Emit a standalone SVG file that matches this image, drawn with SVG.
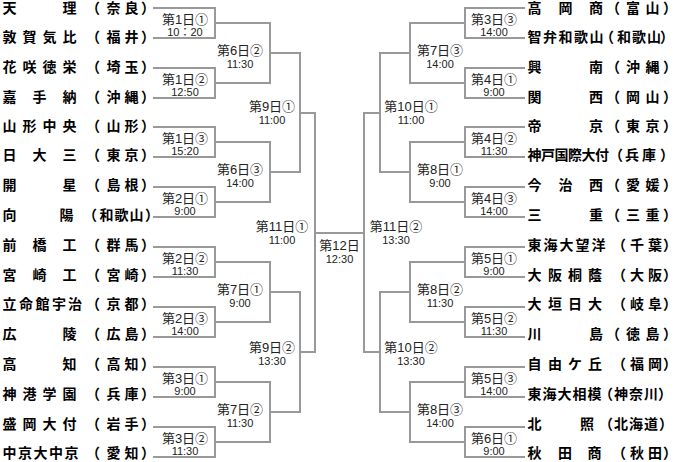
<svg xmlns="http://www.w3.org/2000/svg" width="680" height="462" viewBox="0 0 680 462">
<style>
.ln{fill:none;stroke:#999;stroke-width:2}
.nm{font-family:"Noto Sans CJK JP","Noto Sans CJK SC",sans-serif;font-size:14px;font-weight:700;fill:#000}
.dl{font-family:"Liberation Sans","Noto Sans CJK JP",sans-serif;font-size:13px;fill:#222;text-anchor:middle}
.tm{font-family:"Liberation Sans","Noto Sans CJK JP",sans-serif;font-size:11px;fill:#222;text-anchor:middle}
</style>
<rect width="680" height="462" fill="#fff"/>
<g id="connectors">
<path class="ln" d="M153 8H215V38H153M153 68H215V98H153M153 127H215V157H153M153 187H215V217H153M153 247H215V277H153M153 307H215V337H153M153 367H215V397H153M153 427H215V457H153"/>
<path class="ln" d="M215 23H270V83H215M215 142H270V202H215M215 262H270V322H215M215 382H270V442H215"/>
<path class="ln" d="M270 53H300V172H270M270 292H300V412H270"/>
<path class="ln" d="M300 113H315V352H300"/>
<path class="ln" d="M315 233H364"/>
<path class="ln" d="M380 113H364V352H380"/>
<path class="ln" d="M410 53H380V172H410M410 292H380V412H410"/>
<path class="ln" d="M465 23H410V83H465M465 142H410V202H465M465 262H410V322H465M465 382H410V442H465"/>
<path class="ln" d="M525 8H465V38H525M525 68H465V98H525M525 127H465V157H525M525 187H465V217H525M525 247H465V277H525M525 307H465V337H525M525 367H465V397H525M525 427H465V457H525"/>
</g>
<g id="teams-left">
<g id="L01"><text class="nm" x="2.5 62.5 86 106.5 124.5 141" y="13.3">天理（奈良）</text></g>
<g id="L02"><text class="nm" x="2.5 22.5 42.5 62.5 86 106.5 124.5 141" y="42.1">敦賀気比（福井）</text></g>
<g id="L03"><text class="nm" x="2.5 22.5 42.5 62.5 86 106.5 124.5 141" y="71.9">花咲徳栄（埼玉）</text></g>
<g id="L04"><text class="nm" x="2.5 32.5 62.5 86 106.5 124.5 141" y="101.7">嘉手納（沖縄）</text></g>
<g id="L05"><text class="nm" x="2.5 22.5 42.5 62.5 86 106.5 124.5 141" y="130.5">山形中央（山形）</text></g>
<g id="L06"><text class="nm" x="2.5 32.5 62.5 86 106.5 124.5 141" y="160.3">日大三（東京）</text></g>
<g id="L07"><text class="nm" x="2.5 62.5 86 106.5 124.5 141" y="190.1">開星（島根）</text></g>
<g id="L08"><text class="nm" x="2.5 59.5 83 99.5 114.5 129.5 145" y="219.9">向陽（和歌山）</text></g>
<g id="L09"><text class="nm" x="2.5 32.5 62.5 86 106.5 124.5 141" y="249.7">前橋工（群馬）</text></g>
<g id="L10"><text class="nm" x="2.5 32.5 62.5 86 106.5 124.5 141" y="279.5">宮崎工（宮崎）</text></g>
<g id="L11"><text class="nm" x="2.5 19 35.5 52 68 86 106.5 124.5 141" y="309.3">立命館宇治（京都）</text></g>
<g id="L12"><text class="nm" x="2.5 62.5 86 106.5 124.5 141" y="339.1">広陵（広島）</text></g>
<g id="L13"><text class="nm" x="2.5 62.5 86 106.5 124.5 141" y="368.9">高知（高知）</text></g>
<g id="L14"><text class="nm" x="2.5 22.5 42.5 62.5 86 106.5 124.5 141" y="398.7">神港学園（兵庫）</text></g>
<g id="L15"><text class="nm" x="2.5 22.5 42.5 62.5 86 106.5 124.5 141" y="428.5">盛岡大付（岩手）</text></g>
<g id="L16"><text class="nm" x="2.5 18 33.5 49 64.5 86 106.5 124.5 141" y="458.3">中京大中京（愛知）</text></g>
</g>
<g id="teams-right">
<g id="R01"><text class="nm" x="527.5 558.5 589 606 626 645.5 663" y="13.3">高岡商（富山）</text></g>
<g id="R02"><text class="nm" x="527.5 543 558.5 574 589.5 600 617 632 647 660" y="42.1">智弁和歌山（和歌山）</text></g>
<g id="R03"><text class="nm" x="527.5 589 606 626 645.5 663" y="71.9">興南（沖縄）</text></g>
<g id="R04"><text class="nm" x="527.5 589 606 626 645.5 663" y="101.7">関西（岡山）</text></g>
<g id="R05"><text class="nm" x="527.5 589 606 626 645.5 663" y="130.5">帝京（東京）</text></g>
<g id="R06"><text class="nm" x="527.5 541 554.5 568 581.5 595 609 625 642 660" y="160.3">神戸国際大付（兵庫）</text></g>
<g id="R07"><text class="nm" x="527.5 558.5 589 606 626 645.5 663" y="190.1">今治西（愛媛）</text></g>
<g id="R08"><text class="nm" x="527.5 589 606 626 645.5 663" y="219.9">三重（三重）</text></g>
<g id="R09"><text class="nm" x="527.5 543.5 559.5 575.5 591.5 612 630 648 663" y="249.7">東海大望洋（千葉）</text></g>
<g id="R10"><text class="nm" x="527.5 548 568 588 612 630 648 663" y="279.5">大阪桐蔭（大阪）</text></g>
<g id="R11"><text class="nm" x="527.5 548 568 588 612 630 648 663" y="309.3">大垣日大（岐阜）</text></g>
<g id="R12"><text class="nm" x="527.5 589 606 626 645.5 663" y="339.1">川島（徳島）</text></g>
<g id="R13"><text class="nm" x="527.5 548 568 588 612 630 648 663" y="368.9">自由ケ丘（福岡）</text></g>
<g id="R14"><text class="nm" x="527.5 542.5 557.5 572.5 587.5 599 614 629 644 658" y="398.7">東海大相模（神奈川）</text></g>
<g id="R15"><text class="nm" x="527.5 580 599 614 629 644 659" y="428.5">北照（北海道）</text></g>
<g id="R16"><text class="nm" x="527.5 558 587.5 612 630 648 663" y="458.3">秋田商（秋田）</text></g>
</g>
<g id="matches-left">
<g id="m-d1-1"><text class="dl" x="185" y="23.5">第1日①</text><text class="tm" x="185" y="35.5">10：20</text></g>
<g id="m-d1-2"><text class="dl" x="185" y="83.5">第1日②</text><text class="tm" x="185" y="95.5">12:50</text></g>
<g id="m-d1-3"><text class="dl" x="185" y="142.5">第1日③</text><text class="tm" x="185" y="154.5">15:20</text></g>
<g id="m-d2-1"><text class="dl" x="185" y="202.5">第2日①</text><text class="tm" x="185" y="214.5">9:00</text></g>
<g id="m-d2-2"><text class="dl" x="185" y="262.5">第2日②</text><text class="tm" x="185" y="274.5">11:30</text></g>
<g id="m-d2-3"><text class="dl" x="185" y="322.5">第2日③</text><text class="tm" x="185" y="334.5">14:00</text></g>
<g id="m-d3-1"><text class="dl" x="185" y="382.5">第3日①</text><text class="tm" x="185" y="394.5">9:00</text></g>
<g id="m-d3-2"><text class="dl" x="185" y="442.5">第3日②</text><text class="tm" x="185" y="454.5">11:30</text></g>
<g id="m-d6-2"><text class="dl" x="240" y="55">第6日②</text><text class="tm" x="240" y="67.5">11:30</text></g>
<g id="m-d6-3"><text class="dl" x="240" y="174">第6日③</text><text class="tm" x="240" y="186.5">14:00</text></g>
<g id="m-d7-1"><text class="dl" x="240" y="294">第7日①</text><text class="tm" x="240" y="306.5">9:00</text></g>
<g id="m-d7-2"><text class="dl" x="240" y="414">第7日②</text><text class="tm" x="240" y="426.5">11:30</text></g>
<g id="m-d9-1"><text class="dl" x="272" y="111">第9日①</text><text class="tm" x="272" y="123.5">11:00</text></g>
<g id="m-d9-2"><text class="dl" x="272" y="352">第9日②</text><text class="tm" x="272" y="365">13:30</text></g>
<g id="m-d11-1"><text class="dl" x="282" y="231">第11日①</text><text class="tm" x="282" y="243.5">11:00</text></g>
</g>
<g id="m-final"><text class="dl" x="339.5" y="250">第12日</text><text class="tm" x="339.5" y="262.5">12:30</text></g>
<g id="matches-right">
<g id="m-d11-2"><text class="dl" x="396" y="231">第11日②</text><text class="tm" x="396" y="243.5">13:30</text></g>
<g id="m-d10-1"><text class="dl" x="411" y="111">第10日①</text><text class="tm" x="411" y="123.5">11:00</text></g>
<g id="m-d10-2"><text class="dl" x="411" y="352">第10日②</text><text class="tm" x="411" y="365">13:30</text></g>
<g id="m-d7-3"><text class="dl" x="440" y="55">第7日③</text><text class="tm" x="440" y="67.5">14:00</text></g>
<g id="m-d8-1"><text class="dl" x="440" y="174">第8日①</text><text class="tm" x="440" y="186.5">9:00</text></g>
<g id="m-d8-2"><text class="dl" x="440" y="294">第8日②</text><text class="tm" x="440" y="306.5">11:30</text></g>
<g id="m-d8-3"><text class="dl" x="440" y="414">第8日③</text><text class="tm" x="440" y="426.5">14:00</text></g>
<g id="m-d3-3"><text class="dl" x="494" y="23.5">第3日③</text><text class="tm" x="494" y="35.5">14:00</text></g>
<g id="m-d4-1"><text class="dl" x="494" y="83.5">第4日①</text><text class="tm" x="494" y="95.5">9:00</text></g>
<g id="m-d4-2"><text class="dl" x="494" y="142.5">第4日②</text><text class="tm" x="494" y="154.5">11:30</text></g>
<g id="m-d4-3"><text class="dl" x="494" y="202.5">第4日③</text><text class="tm" x="494" y="214.5">14:00</text></g>
<g id="m-d5-1"><text class="dl" x="494" y="262.5">第5日①</text><text class="tm" x="494" y="274.5">9:00</text></g>
<g id="m-d5-2"><text class="dl" x="494" y="322.5">第5日②</text><text class="tm" x="494" y="334.5">11:30</text></g>
<g id="m-d5-3"><text class="dl" x="494" y="382.5">第5日③</text><text class="tm" x="494" y="394.5">14:00</text></g>
<g id="m-d6-1"><text class="dl" x="494" y="442.5">第6日①</text><text class="tm" x="494" y="454.5">9:00</text></g>
</g>
</svg>
